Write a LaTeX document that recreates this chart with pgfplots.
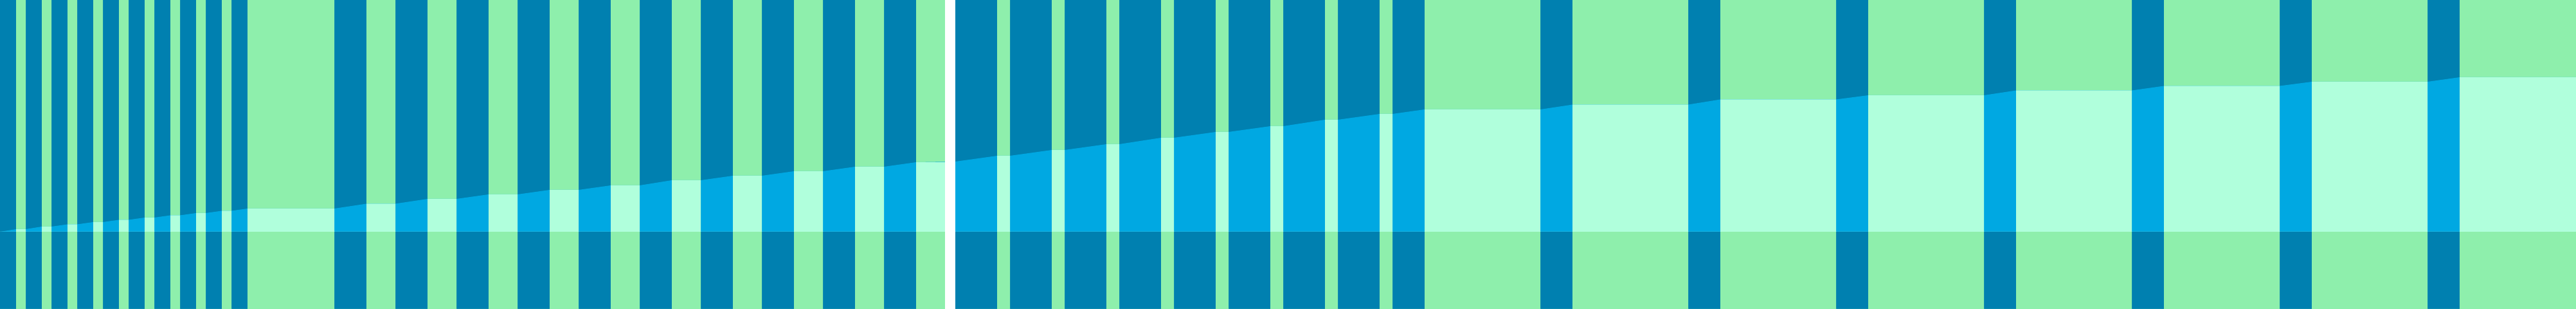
\documentclass[border=0pt]{standalone}
\usepackage{pgfplots}
\pgfplotsset{compat=1.18}

\definecolor{deepblue}{RGB}{0,128,176}
\definecolor{stripegreen}{RGB}{142,239,172}
\definecolor{brightblue}{RGB}{0,168,226}
\definecolor{mint}{RGB}{176,255,220}

\begin{document}
\begin{tikzpicture}
\begin{axis}[
	scale only axis,
	width=40.07cm, height=4.8cm,
	xmin=0, xmax=4007, ymin=-120, ymax=360,
	hide axis,
	enlargelimits=false,
]
% background
\addplot[draw=none, fill=deepblue]
	coordinates {(0,-120) (4007,-120) (4007,360) (0,360)} --cycle;

% green stripes, full height (step: 360 on green, -120 on blue)
\addplot[const plot, draw=none, fill=stripegreen]
	coordinates {
	(0,-120) (25,360) (40,-120) (65,360) (80,-120) (105,360) (120,-120)
	(145,360) (160,-120) (185,360) (200,-120) (225,360) (240,-120)
	(265,360) (280,-120) (305,360) (320,-120) (345,360) (360,-120)
	(385,360) (520,-120) (570,360) (615,-120) (665,360) (710,-120)
	(760,360) (805,-120) (855,360) (900,-120) (950,360) (995,-120)
	(1045,360) (1090,-120) (1140,360) (1185,-120) (1235,360) (1280,-120)
	(1330,360) (1375,-120) (1425,360) (1470,-120) (1551,360) (1571,-120)
	(1636,360) (1656,-120) (1721,360) (1741,-120) (1806,360) (1826,-120)
	(1891,360) (1911,-120) (1976,360) (1996,-120) (2061,360) (2081,-120)
	(2146,360) (2166,-120) (2216,360) (2396,-120) (2446,360) (2626,-120)
	(2676,360) (2856,-120) (2906,360) (3086,-120) (3136,360) (3316,-120)
	(3366,360) (3546,-120) (3596,360) (3776,-120) (3826,360) (4007,-120)
	} --cycle;

% rising band over the blue stripes
\addplot[draw=none, fill=brightblue]
	coordinates {
	(0,0) (25,4) (40,4) (65,8) (80,8) (105,11.5) (120,11.5) (145,15)
	(160,15) (185,18.5) (200,18.5) (225,22) (240,22) (265,25.5) (280,25.5)
	(305,29) (320,29) (345,32.5) (360,32.5) (385,36) (520,36) (570,43.5)
	(615,43.5) (665,51) (710,51) (760,58) (805,58) (855,65) (900,65)
	(950,72) (995,72) (1045,80) (1090,80) (1140,87) (1185,87) (1235,94)
	(1280,94) (1330,101) (1375,101) (1425,108) (1486,109) (1551,118)
	(1571,118) (1636,127) (1656,127) (1721,136) (1741,136) (1806,146)
	(1826,146) (1891,155) (1911,155) (1976,164) (1996,164) (2061,174)
	(2081,174) (2146,183) (2166,183) (2216,190) (2396,190) (2446,197.5)
	(2626,197.5) (2676,205.5) (2856,205.5) (2906,212) (3086,212)
	(3136,219.5) (3316,219.5) (3366,226.5) (3546,226.5) (3596,233)
	(3776,233) (3826,240) (4007,240)
	} \closedcycle;

% same band over the green stripes (flat tops)
\addplot[const plot, draw=none, fill=mint]
	coordinates {
	(0,0) (25,4) (40,0) (65,8) (80,0) (105,11.5) (120,0) (145,15) (160,0)
	(185,18.5) (200,0) (225,22) (240,0) (265,25.5) (280,0) (305,29)
	(320,0) (345,32.5) (360,0) (385,36) (520,0) (570,43.5) (615,0)
	(665,51) (710,0) (760,58) (805,0) (855,65) (900,0) (950,72) (995,0)
	(1045,80) (1090,0) (1140,87) (1185,0) (1235,94) (1280,0) (1330,101)
	(1375,0) (1425,108) (1470,0) (1551,118) (1571,0) (1636,127) (1656,0)
	(1721,136) (1741,0) (1806,146) (1826,0) (1891,155) (1911,0) (1976,164)
	(1996,0) (2061,174) (2081,0) (2146,183) (2166,0) (2216,190) (2396,0)
	(2446,197.5) (2626,0) (2676,205.5) (2856,0) (2906,212) (3086,0)
	(3136,219.5) (3316,0) (3366,226.5) (3546,0) (3596,233) (3776,0)
	(3826,240) (4007,240)
	} \closedcycle;

% white gap
\addplot[draw=none, fill=white]
	coordinates {(1470,-120) (1486,-120) (1486,360) (1470,360)} --cycle;
\end{axis}
\end{tikzpicture}
\end{document}
